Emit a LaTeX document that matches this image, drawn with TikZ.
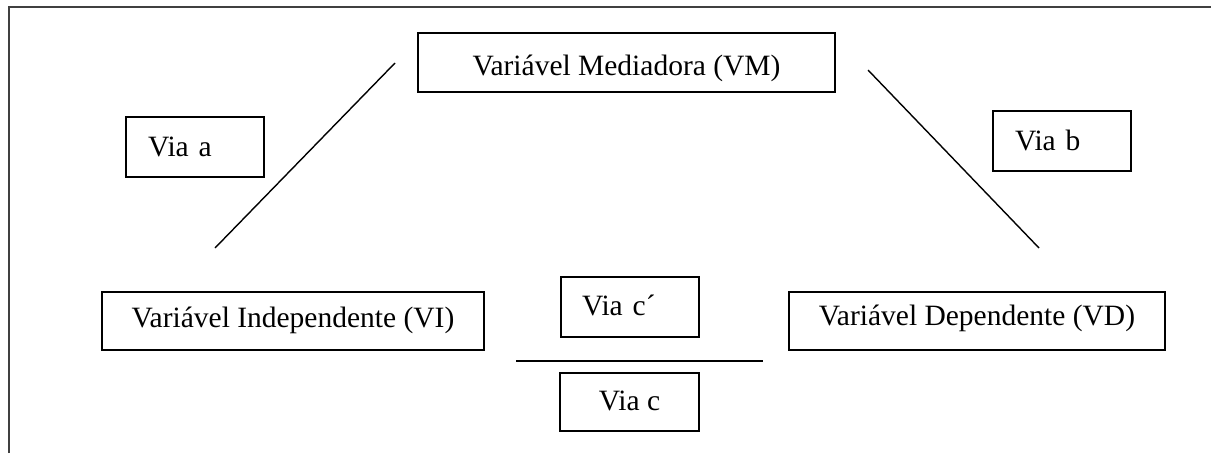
\documentclass[tikz,border=0pt]{standalone}
\usepackage{fontspec}
\setmainfont{Liberation Serif}
\begin{document}
\begin{tikzpicture}[x=1pt,y=-1pt,
  box/.style={draw=black, line width=1.8pt, rectangle, inner sep=0pt,
    font=\fontsize{29.5}{34}\selectfont, text depth=0pt},
  leftbox/.style={box, align=left, inner xsep=#1, text width=138pt-2*#1},
  link/.style={line width=1.4pt, draw=black},
  frame/.style={line width=2pt, draw=black!75}]
\useasboundingbox (0,0) rectangle (1211,453);
% outer frame (top and left only)
\coordinate (fbl) at (8.5,453);
\coordinate (ftl) at (8.5,6.5);
\coordinate (ftr) at (1211,6.5);
\draw[frame] (fbl) -- (ftl) -- (ftr);
% boxes
\node[box, minimum width=417pt, minimum height=59pt, text height=25pt] (vm) at (626.5,62.5) {Variável Mediadora (VM)};
\node[leftbox=22pt, minimum height=60pt, text height=18pt] (viaa) at (195,147) {Via a};
\node[leftbox=22pt, minimum height=60pt, text height=18pt] (viab) at (1062,141) {Via b};
\node[box, minimum width=382pt, minimum height=58pt, text height=12pt] (vi) at (293,321) {Variável Independente (VI)};
\node[box, minimum width=376pt, minimum height=58pt, text height=9pt] (vd) at (977,321) {Variável Dependente (VD)};
\node[leftbox=21pt, minimum height=60pt, text height=16pt] (viacp) at (630,307) {Via c´};
\node[box, minimum width=139pt, minimum height=58pt, text height=16pt] (viac) at (629.5,402) {Via c};
% lines
\coordinate (a1) at (215,248);
\coordinate (a2) at (395,63);
\coordinate (b1) at (868,70);
\coordinate (b2) at (1039,248);
\coordinate (c1) at (516,361);
\coordinate (c2) at (763,361);
\draw[link] (a1) -- (a2);
\draw[link] (b1) -- (b2);
\draw[link] (c1) -- (c2);
\end{tikzpicture}
\end{document}
